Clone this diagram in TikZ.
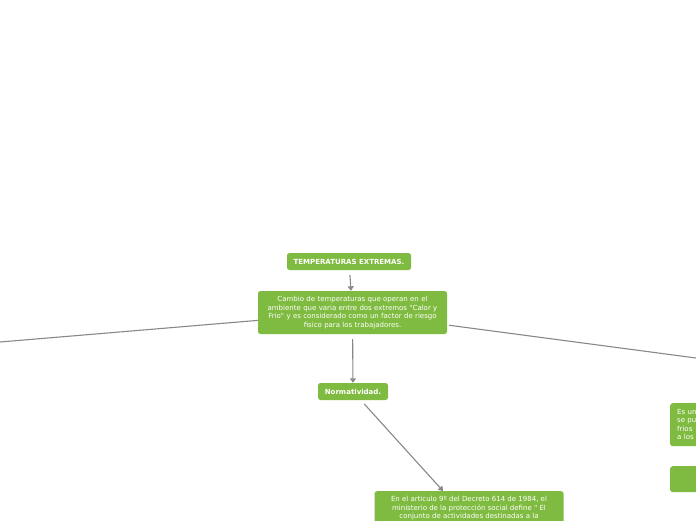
\documentclass[tikz,border=0pt]{standalone}
\usepackage{fontspec}
\newfontfamily\mapfont{DejaVu Sans}
\usetikzlibrary{arrows.meta}
\definecolor{leaf}{RGB}{128,187,65}
\definecolor{wire}{RGB}{136,136,136}

\begin{document}
\begin{tikzpicture}[x=1pt,y=-1pt,>={Triangle[width=6pt,length=4.5pt]},
  topic/.style={fill=leaf,rounded corners=2.5pt,text=white,align=center,
    font=\mapfont\fontsize{7}{8.5}\selectfont,inner sep=0pt},
  heading/.style={topic,minimum height=17pt,font=\mapfont\bfseries\fontsize{7}{8}\selectfont},
  link/.style={draw=wire,line width=1.1pt}]
\useasboundingbox (0,0) rectangle (696,520);
\clip (0,0) rectangle (696,520);
\node[heading,minimum width=124pt] (title) at (349,261.5) {TEMPERATURAS EXTREMAS.};
\node[topic,text width=177pt,minimum width=189pt,minimum height=43pt] (main) at (352.5,312.5)
  {Cambio de temperaturas que operan en el\\ambiente que varia entre dos extremos "Calor y\\Frio" y es considerado como un factor de riesgo\\fisico para los trabajadores.};
\node[heading,minimum width=70pt] (norm) at (353,391.5) {Normatividad.};
\node[topic,anchor=north,inner xsep=7pt,inner ysep=5pt] (decree) at (469,491)
  {\parbox[t][47pt][t]{175pt}{\centering En el articulo 9º del Decreto 614 de 1984, el\\ministerio de la protección social define " El\\conjunto de actividades destinadas a la}};
\node[topic,anchor=north west,minimum width=120pt,minimum height=43pt,text width=106pt,align=left,inner xsep=7pt]
  (cold) at (670,403) {Es un\\se pu\\frios\\a los};
\node[topic,anchor=north west,minimum width=120pt,minimum height=26pt] (blank) at (670,466) {};
\coordinate (leftend) at (0,342);
\coordinate (rightend) at (696,358);
\draw[link,->,shorten <=5pt] (title) -- (main);
\draw[link,->,shorten <=5pt] (main) -- (norm);
\draw[link,->,shorten <=5pt] (norm) -- (decree);
\draw[link] (main) -- (leftend);
\draw[link,shorten <=2pt] (main) -- (rightend);
\end{tikzpicture}
\end{document}
